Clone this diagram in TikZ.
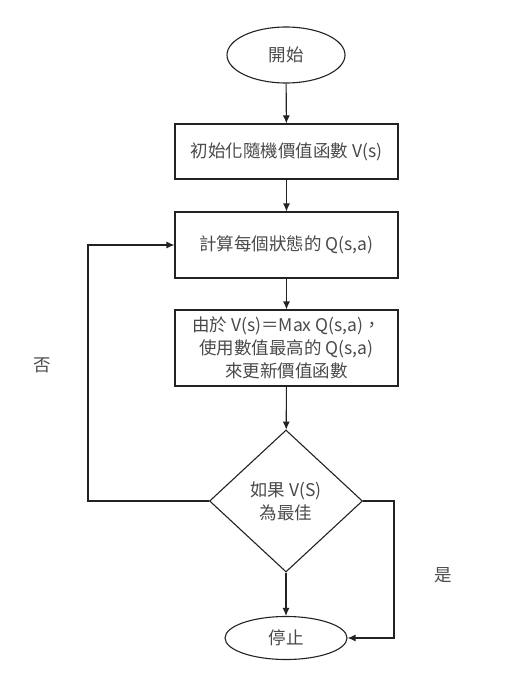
\documentclass[tikz,border=0pt]{standalone}
\usepackage{fontspec}
\setmainfont{Noto Sans CJK TC}
\usetikzlibrary{shapes.geometric,arrows.meta}
\definecolor{txt}{HTML}{4A4A4A}
\definecolor{ln}{HTML}{222222}
\tikzset{
  base/.style={draw=ln, line width=1.1pt, text=txt, font=\fontsize{17.5}{23}\selectfont, inner sep=0pt, align=center},
  term/.style={base, ellipse},
  proc/.style={base, rectangle, minimum width=223pt},
  decide/.style={base, diamond, minimum width=153pt, minimum height=142pt},
  flow/.style={draw=ln, line width=1.1pt, -{Latex[length=8pt,width=7pt]}},
  lbl/.style={text=txt, font=\fontsize{17.5}{20}\selectfont}
}
\begin{document}
\begin{tikzpicture}[x=1pt,y=-1pt]
  \useasboundingbox (0,0) rectangle (529,693);
  \node[term, minimum width=118pt, minimum height=56pt] (start) at (286,55) {開始};
  \node[proc, minimum height=55pt] (init) at (286.5,151.5) {初始化隨機價值函數 V(s)};
  \node[proc, minimum height=66pt] (calc) at (286.5,245) {計算每個狀態的 Q(s,a)};
  \node[proc, minimum height=76pt] (upd) at (286.5,348) {由於 V(s)＝Max Q(s,a)，\\使用數值最高的 Q(s,a)\\來更新價值函數};
  \node[decide] (dec) at (286,501) {如果 V(S)\\為最佳};
  \node[term, minimum width=122pt, minimum height=43pt] (stop) at (286,638) {停止};
  \coordinate (nl) at (88,501);
  \coordinate (nr) at (394,501);

  \draw[flow] (start) -- (init);
  \draw[flow] (init) -- (calc);
  \draw[flow] (calc) -- (upd);
  \draw[flow] (upd) -- (dec);
  \draw[flow] (dec) -- (stop);
  \draw[flow] (dec.west) -- (nl) |- (calc.west);
  \draw[flow] (dec.east) -- (nr) |- (stop.east);

  \node[lbl] (no) at (42,365) {否};
  \node[lbl] (yes) at (443,575) {是};
\end{tikzpicture}
\end{document}
